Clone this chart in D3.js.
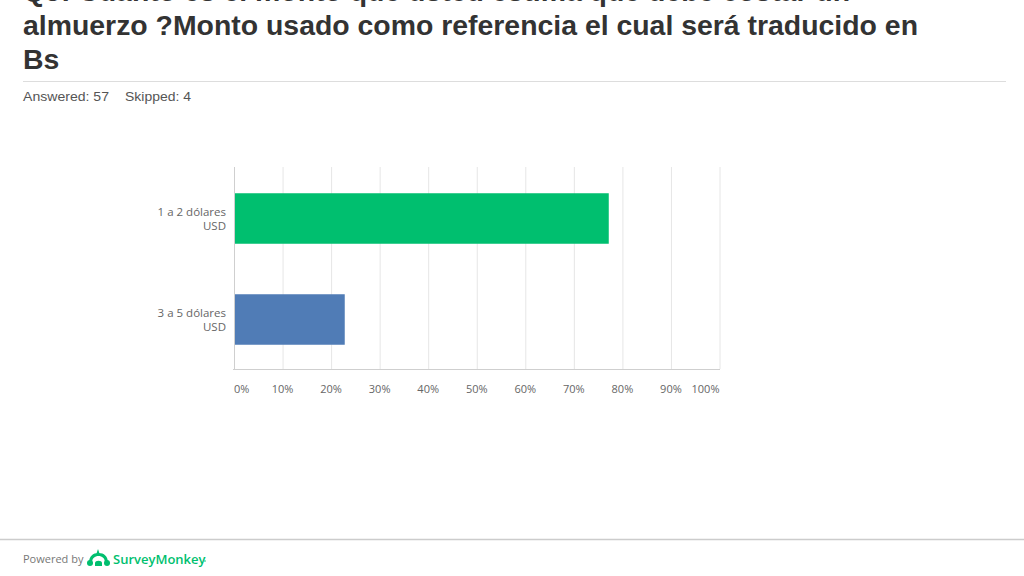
<!DOCTYPE html>
<html><head><meta charset="utf-8">
<script src="https://cdn.jsdelivr.net/npm/d3@7"></script>
<style>body{margin:0;background:#fff;}svg{display:block;}</style>
</head><body>
<script>
const titleLines = ["Q5: Cuánto es el monto que usted estima que debe costar un","almuerzo ?Monto usado como referencia el cual será traducido en","Bs"];
const categories = [["1 a 2 dólares","USD"],["3 a 5 dólares","USD"]];
const values = [0.7719, 0.2281];
const colors = ["#00BF6F","#507CB6"];
const ticks = [0,0.1,0.2,0.3,0.4,0.5,0.6,0.7,0.8,0.9,1.0];

const W=1024,H=576;
const svg=d3.select("body").append("svg").attr("width",W).attr("height",H);

// title
const tt=svg.append("g").selectAll("text").data(titleLines).join("text")
  .attr("x",23).attr("y",(d,i)=>1+i*34)
  .attr("font-family","Liberation Sans, Arial, sans-serif").attr("font-weight","bold")
  .attr("font-size",27).attr("fill","#333").text(d=>d);
const natural2=tt.nodes()[1].getComputedTextLength();
const k=895/natural2;
tt.each(function(){const n=this.getComputedTextLength();d3.select(this).attr("textLength",n*k).attr("lengthAdjust","spacingAndGlyphs");});

svg.append("line").attr("x1",23).attr("x2",1006).attr("y1",81.5).attr("y2",81.5).attr("stroke","#ddd");
svg.append("text").attr("x",23).attr("y",101).attr("font-family","Liberation Sans, Arial, sans-serif")
  .attr("font-size",13.5).attr("fill","#555").attr("textLength",86).attr("lengthAdjust","spacingAndGlyphs").text("Answered: 57");
svg.append("text").attr("x",125).attr("y",101).attr("font-family","Liberation Sans, Arial, sans-serif")
  .attr("font-size",13.5).attr("fill","#555").attr("textLength",66).attr("lengthAdjust","spacingAndGlyphs").text("Skipped: 4");

// chart
const x=d3.scaleLinear().domain([0,1]).range([234,719.5]);
const y=d3.scaleBand().domain(d3.range(categories.length)).range([167,369]).paddingInner(0.5).paddingOuter(0.25);
const g=svg.append("g");
g.selectAll("line.grid").data(ticks).join("line").attr("class","grid")
  .attr("x1",d=>x(d)).attr("x2",d=>x(d)).attr("y1",167).attr("y2",369)
  .attr("stroke",(d,i)=>i===0?"#cfcfcf":"#e6e6e6").attr("stroke-width",1)
  .attr("transform","translate(0.5,0)");
g.append("line").attr("x1",233).attr("x2",720).attr("y1",369.5).attr("y2",369.5).attr("stroke","#cfcfcf");
g.selectAll("rect").data(values).join("rect")
  .attr("x",x(0)+1).attr("y",(d,i)=>y(i)+1).attr("height",y.bandwidth())
  .attr("width",d=>x(d)-x(0)-1).attr("fill",(d,i)=>colors[i]);
const lab=g.selectAll("text.cat").data(categories).join("text").attr("class","cat")
  .attr("text-anchor","end").attr("font-family","Open Sans, sans-serif").attr("font-size",11.5).attr("fill","#666");
lab.selectAll("tspan").data((d,i)=>d.map(t=>({t,i}))).join("tspan")
  .attr("x",226).attr("y",(d,j)=>y(d.i)+y.bandwidth()/2-2+j*14).text(d=>d.t);
g.selectAll("text.tick").data(ticks).join("text").attr("class","tick")
  .attr("x",d=>x(d)).attr("y",393)
  .attr("text-anchor",(d,i)=>i===0?"start":(i===ticks.length-1?"end":"middle"))
  .attr("font-family","Open Sans, sans-serif").attr("font-size",11).attr("fill","#666")
  .text(d=>d3.format(".0%")(d));

// footer
svg.append("line").attr("x1",0).attr("x2",W).attr("y1",539.5).attr("y2",539.5).attr("stroke","#ccc").attr("stroke-width",1.5);
svg.append("text").attr("x",23).attr("y",563).attr("font-family","Open Sans, sans-serif").attr("font-size",11).attr("fill","#777").text("Powered by");
const logo=svg.append("g").attr("transform","translate(87,549)").attr("fill","#00BF6F");
logo.append("path").attr("d","M2,14 C2,7 6,4 11.5,4 C17,4 21,7 21,14 L18,14 C18,9 15,7 11.5,7 C8,7 5,9 5,14 Z");
logo.append("circle").attr("cx",3).attr("cy",14).attr("r",3);
logo.append("circle").attr("cx",20).attr("cy",14).attr("r",3);
logo.append("path").attr("d","M9,6 L11,0 L13,6 Z");
logo.append("path").attr("d","M8,14 C8,11 15,11 15,14 L15,17 L8,17 Z");
svg.append("text").attr("x",113).attr("y",564).attr("font-family","Open Sans, sans-serif").attr("font-weight","600")
  .attr("font-size",13).attr("fill","#00BF6F").text("SurveyMonkey");
svg.append("circle").attr("cx",205).attr("cy",561).attr("r",0.8).attr("fill","#00BF6F");
</script>
</body></html>
